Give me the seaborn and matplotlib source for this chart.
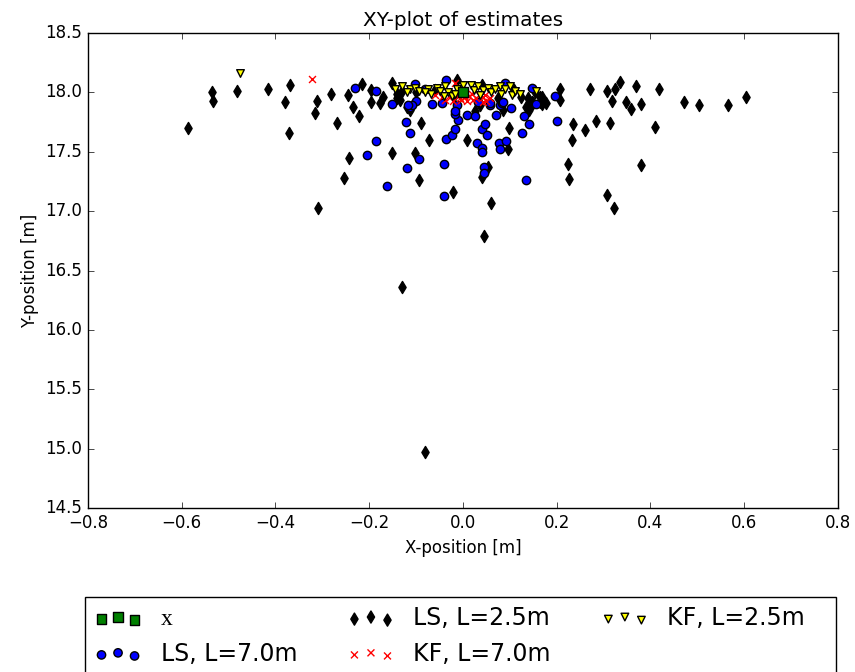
import matplotlib
matplotlib.use("Agg")
import matplotlib.pyplot as plt
from matplotlib.patches import Rectangle
import seaborn as sns

# True position
true_x = [0.0]
true_y = [18.0]

# Least squares, L = 2.5 m
ls25_x = [-0.586, -0.535, -0.533, -0.483, -0.415, -0.380, -0.368, -0.371, -0.312, -0.316,
          -0.310, -0.282, -0.269, -0.215, -0.245, -0.234, -0.222, -0.196, -0.197, -0.176,
          -0.170, -0.152, -0.090, -0.073, -0.152, -0.243, -0.254, -0.102, -0.093, 0.008,
          0.098, 0.097, 0.054, 0.041, 0.164, -0.013, 0.150, -0.021, 0.059, 0.045,
          -0.129, -0.080, 0.208, 0.208, 0.177, 0.168, 0.234, 0.232, 0.225, 0.227,
          0.260, 0.271, 0.284, 0.307, 0.314, 0.307, 0.322, 0.319, 0.325, 0.335,
          0.348, 0.358, 0.369, 0.379, 0.381, 0.410, 0.418, 0.471, 0.503, 0.565,
          0.604, -0.131, -0.141, -0.134, -0.120, -0.113, 0.026, 0.164, 0.147, 0.141,
          0.134, 0.086, 0.139, 0.154, 0.168, -0.141, 0.036, -0.100, -0.060, -0.020,
          0.040, 0.075, 0.110, 0.125]
ls25_y = [17.70, 18.00, 17.93, 18.01, 18.03, 17.92, 18.06, 17.66, 17.93, 17.83,
          17.03, 17.99, 17.74, 18.07, 17.98, 17.88, 17.80, 18.02, 17.92, 17.91,
          17.96, 18.08, 17.74, 17.60, 17.49, 17.45, 17.28, 17.49, 17.26, 17.60,
          17.70, 17.52, 17.37, 17.29, 17.92, 18.10, 17.91, 17.16, 17.07, 16.79,
          16.36, 14.97, 18.03, 17.94, 17.91, 17.96, 17.73, 17.60, 17.40, 17.27,
          17.68, 18.03, 17.76, 18.01, 17.74, 17.14, 17.03, 17.93, 18.03, 18.09,
          17.92, 17.86, 18.05, 17.90, 17.39, 17.71, 18.03, 17.92, 17.89, 17.89,
          17.96, 18.01, 17.99, 17.94, 17.88, 17.85, 17.84, 17.96, 17.92, 17.85,
          17.88, 17.85, 17.95, 18.00, 17.90, 17.95, 17.89, 18.00, 18.02, 17.97,
          18.06, 17.95, 18.02, 17.96]

# Least squares, L = 7.0 m
ls70_x = [-0.230, -0.186, -0.151, -0.122, -0.113, -0.186, -0.204, -0.094, -0.119, -0.163,
          -0.040, -0.035, -0.023, -0.016, -0.011, -0.016, -0.013, 0.008, 0.026, 0.041,
          0.052, 0.031, 0.041, 0.041, 0.077, 0.079, 0.093, 0.070, 0.102, 0.131,
          0.141, 0.127, 0.147, 0.196, 0.201, 0.044, 0.045, 0.134, -0.040, -0.065,
          -0.045, -0.100, -0.113, -0.081, -0.102, -0.035, 0.058, 0.079, 0.156, 0.083,
          -0.109, -0.017, 0.033, 0.058, 0.086, 0.090, -0.117, 0.047]
ls70_y = [18.04, 18.01, 17.90, 17.75, 17.66, 17.59, 17.47, 17.44, 17.36, 17.21,
          17.40, 17.61, 17.64, 17.69, 17.77, 17.82, 17.89, 17.81, 17.80, 17.69,
          17.64, 17.57, 17.53, 17.50, 17.57, 17.52, 17.59, 17.81, 17.87, 17.80,
          17.73, 17.66, 18.04, 17.97, 17.76, 17.37, 17.32, 17.26, 17.13, 17.90,
          17.91, 17.93, 17.88, 18.03, 18.07, 18.10, 17.89, 17.89, 17.90, 17.91,
          17.89, 17.84, 17.92, 17.91, 17.92, 18.08, 17.89, 17.73]

# Kalman filter, L = 7.0 m
kf70_x = [-0.321, -0.045, -0.021, -0.006, 0.008, 0.029, 0.043, 0.050, -0.031, 0.019,
          -0.060, -0.017, 0.026, 0.043, 0.058, -0.028, -0.003, 0.012, 0.035, -0.010,
          0.022, -0.038, 0.004, 0.047]
kf70_y = [18.11, 17.96, 17.93, 17.95, 17.93, 17.95, 17.96, 17.93, 18.00, 17.99,
          17.98, 18.08, 18.02, 17.92, 17.95, 17.96, 17.94, 17.97, 17.98, 17.97,
          17.94, 17.94, 17.96, 17.98]

# Kalman filter, L = 2.5 m
kf25_x = [-0.475, -0.131, -0.113, -0.102, -0.094, -0.074, -0.067, -0.056, -0.049, -0.038,
          -0.031, -0.024, -0.040, -0.013, -0.017, 0.017, 0.024, 0.033, 0.043, 0.054,
          0.061, 0.068, 0.079, 0.081, 0.090, 0.100, 0.104, 0.112, 0.122, -0.081,
          -0.120, -0.145, 0.036, 0.001, 0.157]
kf25_y = [18.16, 18.05, 18.03, 18.04, 18.01, 18.03, 17.99, 18.04, 18.01, 18.05,
          18.00, 17.97, 17.97, 18.03, 17.99, 18.06, 18.02, 18.05, 18.02, 18.04,
          18.00, 18.03, 18.05, 17.99, 18.03, 18.05, 17.98, 18.01, 17.99, 18.00,
          18.00, 18.03, 17.98, 18.06, 18.01]

labels = ["x", "LS, L=7.0m", "LS, L=2.5m", "KF, L=7.0m", "KF, L=2.5m"]

plt.style.use("classic")
plt.rcParams["figure.facecolor"] = "white"
plt.rcParams["savefig.facecolor"] = "white"
plt.rcParams["font.family"] = ["DejaVu Sans"]

fig = plt.figure(figsize=(8.55, 6.72), dpi=100)
ax = fig.add_axes([0.1029, 0.244, 0.877, 0.7069])

sns.scatterplot(x=ls25_x, y=ls25_y, marker="d", color="black", edgecolor="black",
                linewidth=1, s=38, ax=ax, legend=False)
ls25_col = ax.collections[-1]
sns.scatterplot(x=ls70_x, y=ls70_y, marker="o", color="blue", edgecolor="black",
                linewidth=1, s=36, ax=ax, legend=False)
ls70_col = ax.collections[-1]
sns.scatterplot(x=kf70_x, y=kf70_y, marker="x", color="red", edgecolor="red",
                linewidth=1, s=25, ax=ax, legend=False)
kf70_col = ax.collections[-1]
sns.scatterplot(x=kf25_x, y=kf25_y, marker="v", color="yellow", edgecolor="black",
                linewidth=1, s=30, ax=ax, legend=False)
kf25_col = ax.collections[-1]
sns.scatterplot(x=true_x, y=true_y, marker="s", color="green", edgecolor="black",
                linewidth=1, s=45, ax=ax, legend=False)
true_col = ax.collections[-1]

ax.set_xlim(-0.8, 0.8)
ax.set_ylim(14.5, 18.5)
ax.set_xticks([-0.8, -0.6, -0.4, -0.2, 0.0, 0.2, 0.4, 0.6, 0.8])
ax.set_yticks([14.5, 15.0, 15.5, 16.0, 16.5, 17.0, 17.5, 18.0, 18.5])
ax.set_title("XY-plot of estimates", fontsize=14.4)
ax.set_xlabel("X-position [m]", fontsize=12)
ax.set_ylabel("Y-position [m]", fontsize=12)
ax.tick_params(labelsize=12)

# Legend entries below the axes, with a separate frame around them
leg = ax.legend([true_col, ls70_col, ls25_col, kf70_col, kf25_col], labels,
                loc="upper left", bbox_to_anchor=(-0.004, -0.187, 0.973, 0.0),
                mode="expand", ncol=3, scatterpoints=3, borderaxespad=0,
                fontsize=17, frameon=False)
leg.get_texts()[0].set_family("Liberation Serif")

frame = Rectangle((85 / 855, -0.05), 751 / 855, 0.05 + 1 - 597 / 672,
                  transform=fig.transFigure, fill=False, edgecolor="black",
                  linewidth=1, clip_on=False)
fig.patches.append(frame)

fig.savefig("out.png", dpi=100)
